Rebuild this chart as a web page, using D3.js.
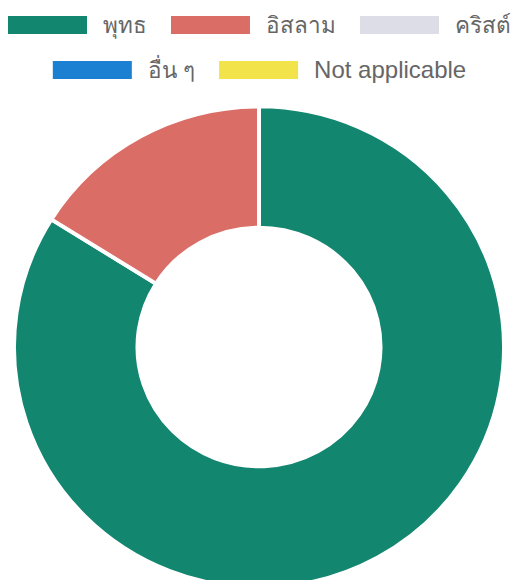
<!DOCTYPE html>
<html>
<head>
<meta charset="utf-8">
<title>ศาสนา</title>
<script src="https://d3js.org/d3.v7.min.js"></script>
<style>
  body { margin: 0; background: #fff; }
  svg { display: block; }
  .legend text { font-family: "Liberation Sans", Arial, sans-serif; font-size: 24px; fill: #666; }
  .legend text.th { font-size: 22.5px; }
</style>
</head>
<body>
<svg id="chart" width="519" height="580"></svg>
<script>
// data
var labels = ["พุทธ", "อิสลาม", "คริสต์", "อื่น ๆ", "Not applicable"];
var values = [83.9, 16.1, 0, 0, 0];
var colors = ["#13866f", "#db6d67", "#dcdde6", "#1c80d2", "#f3e34b"];
var legendRows = [[0, 1, 2], [3, 4]];

var svg = d3.select("#chart"),
    W = +svg.attr("width");

var cx = 259, cy = 347,
    outerR = 245, innerR = 121.5;

var color = d3.scaleOrdinal().domain(labels).range(colors);

var pie = d3.pie().sort(null).value(function(d, i) { return values[i]; });
var arc = d3.arc().innerRadius(innerR).outerRadius(outerR);

var g = svg.append("g")
    .attr("transform", "translate(" + cx + "," + cy + ") scale(1,0.982)");

g.selectAll("path")
  .data(pie(labels))
  .enter().append("path")
  .attr("d", arc)
  .attr("fill", function(d) { return color(d.data); })
  .attr("stroke", "#fff")
  .attr("stroke-width", 4);

// legend, rows centred like chart.js
var boxW = 79, boxH = 18, boxGap = 16, itemGap = 24;
var rowBase = [33, 78];

var legend = svg.append("g").attr("class", "legend");

legendRows.forEach(function(row, r) {
  var items = row.map(function(i) {
    var it = legend.append("g");
    it.append("rect")
      .attr("y", -17)
      .attr("width", boxW).attr("height", boxH)
      .attr("fill", colors[i]);
    var t = it.append("text")
      .attr("class", /[\u0E00-\u0E7F]/.test(labels[i]) ? "th" : null)
      .attr("x", boxW + boxGap)
      .text(labels[i]);
    return { g: it, w: boxW + boxGap + t.node().getComputedTextLength() };
  });
  var total = d3.sum(items, function(d) { return d.w; }) + itemGap * (items.length - 1);
  var x = (W - total) / 2;
  items.forEach(function(d) {
    d.g.attr("transform", "translate(" + x + "," + rowBase[r] + ")");
    x += d.w + itemGap;
  });
});
</script>
</body>
</html>
